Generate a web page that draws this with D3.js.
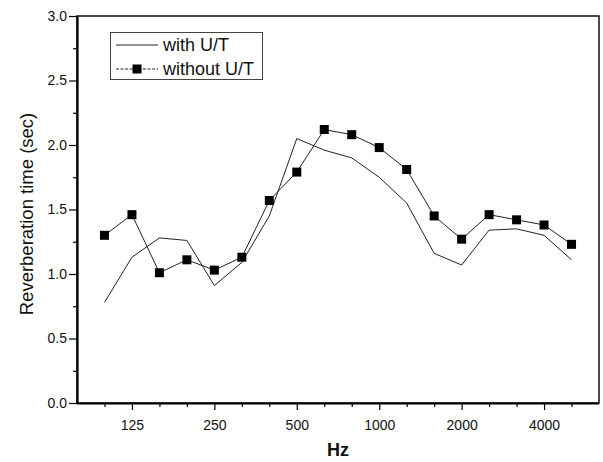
<!DOCTYPE html>
<html>
<head>
<meta charset="utf-8">
<script src="https://cdn.jsdelivr.net/npm/d3@7"></script>
<style>
  html, body { margin: 0; padding: 0; background: #fff; }
  svg { display: block; font-family: "Liberation Sans", Arial, sans-serif; }
</style>
</head>
<body>
<svg id="chart" width="603" height="462"></svg>
<script>
// Frequency bands (1/3 octave)
const freqs = ["100","125","160","200","250","315","400","500","630","800","1000","1250","1600","2000","2500","3150","4000","5000"];
const labeledFreqs = ["125","250","500","1000","2000","4000"];
// Series values (sec)
const withUT    = [0.78,1.13,1.28,1.26,0.91,1.09,1.45,2.05,1.96,1.90,1.75,1.55,1.16,1.07,1.34,1.35,1.30,1.11];
const withoutUT = [1.30,1.46,1.01,1.11,1.03,1.13,1.57,1.79,2.12,2.08,1.98,1.81,1.45,1.27,1.46,1.42,1.38,1.23];
const yMajor = [0,0.5,1.0,1.5,2.0,2.5,3.0];
const yMinor = [0.25,0.75,1.25,1.75,2.25,2.75];
const seriesNames = ["with U/T","without U/T"];

const svg = d3.select("#chart");
const L = 77, R = 599, T = 16, B = 403;

const x = d3.scaleLinear().domain([-1, freqs.length]).range([L, R]);
const y = d3.scaleLinear().domain([0, 3]).range([B, T]);

// frame (top & right)
svg.append("rect").attr("x", L).attr("y", T).attr("width", R - L).attr("height", B - T)
  .attr("fill", "none").attr("stroke", "#111").attr("stroke-width", 1.5);

// x axis
const xAxis = d3.axisBottom(x)
  .tickValues(freqs.map((d, i) => i))
  .tickSize(5)
  .tickFormat(i => labeledFreqs.includes(freqs[i]) ? freqs[i] : "");
const gx = svg.append("g").attr("transform", `translate(0,${B})`).call(xAxis);
gx.select(".domain").attr("stroke", "#000").attr("stroke-width", 2.2).attr("d", `M${L},0.5H${R}`);
gx.selectAll(".tick line").attr("stroke", "#000").attr("stroke-width", 1.2)
  .attr("y2", i => labeledFreqs.includes(freqs[i]) ? 7 : 4);
gx.selectAll(".tick text").attr("font-size", 14).attr("fill", "#111").attr("dy", "1.35em")
  .attr("font-family", '"Liberation Sans", Arial, sans-serif');

// y axis
const yAxis = d3.axisLeft(y).tickValues(yMajor).tickSize(8).tickFormat(d3.format(".1f"));
const gy = svg.append("g").attr("transform", `translate(${L},0)`).call(yAxis);
gy.select(".domain").attr("stroke", "#000").attr("stroke-width", 2.2).attr("d", `M0.5,${T}V${B}`);
gy.selectAll(".tick line").attr("stroke", "#000").attr("stroke-width", 1.2);
gy.selectAll(".tick text").attr("font-size", 14).attr("fill", "#111").attr("x", -10)
  .attr("font-family", '"Liberation Sans", Arial, sans-serif');
const yMin = d3.axisLeft(y).tickValues(yMinor).tickSize(4).tickFormat("");
const gym = svg.append("g").attr("transform", `translate(${L},0)`).call(yMin);
gym.select(".domain").remove();
gym.selectAll(".tick line").attr("stroke", "#000").attr("stroke-width", 1.2);

// axis titles
svg.append("text").attr("x", 338).attr("y", 456).attr("text-anchor", "middle")
  .attr("font-size", 18).attr("font-weight", "bold").attr("fill", "#111").text("Hz");
svg.append("text").attr("transform", "translate(33,214) rotate(-90)").attr("text-anchor", "middle")
  .attr("font-size", 18.5).attr("fill", "#111").text("Reverberation time (sec)");

// lines
const line = d3.line().x((d, i) => x(i)).y(d => y(d));
svg.append("path").datum(withUT).attr("d", line).attr("fill", "none")
  .attr("stroke", "#222").attr("stroke-width", 1);
svg.append("path").datum(withoutUT).attr("d", line).attr("fill", "none")
  .attr("stroke", "#222").attr("stroke-width", 1);
const sq = 9;
svg.append("g").selectAll("rect").data(withoutUT).join("rect")
  .attr("x", (d, i) => x(i) - sq / 2).attr("y", d => y(d) - sq / 2)
  .attr("width", sq).attr("height", sq).attr("fill", "#000");

// legend
const lg = svg.append("g");
lg.append("rect").attr("x", 110.5).attr("y", 32.5).attr("width", 152).attr("height", 47)
  .attr("fill", "#fff").attr("stroke", "#444").attr("stroke-width", 1);
[0, 1].forEach(k => {
  const yy = 45 + k * 24;
  lg.append("line").attr("x1", 116).attr("x2", 158).attr("y1", yy).attr("y2", yy)
    .attr("stroke", "#222").attr("stroke-width", 1)
    .attr("stroke-dasharray", k === 1 ? "3,1.5" : null);
  if (k === 1) lg.append("rect").attr("x", 137 - sq / 2).attr("y", yy - sq / 2)
    .attr("width", sq).attr("height", sq).attr("fill", "#000");
  lg.append("text").attr("x", 163).attr("y", yy + 6).attr("font-size", 18)
    .attr("fill", "#111").text(seriesNames[k]);
});
</script>
</body>
</html>
